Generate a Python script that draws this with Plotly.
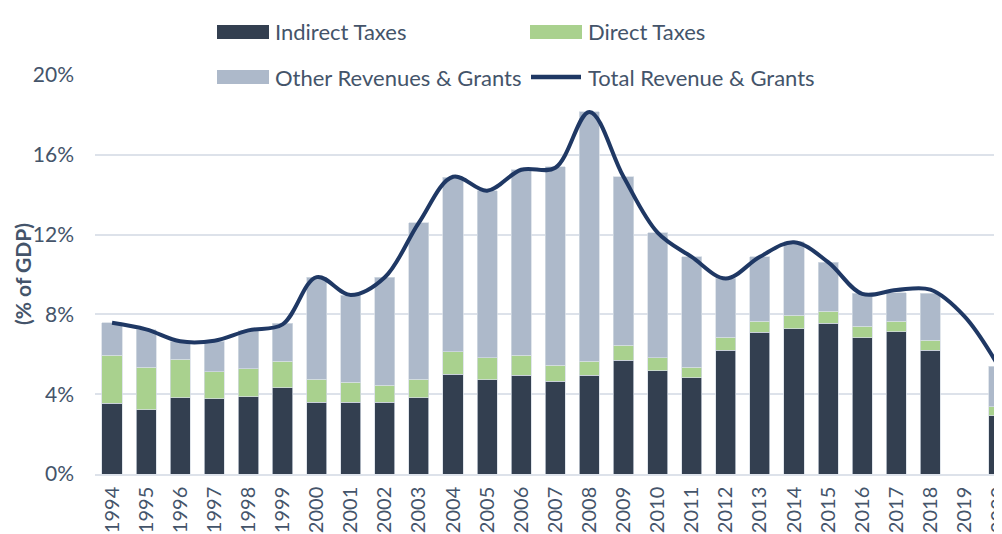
import plotly.graph_objects as go

years = [str(y) for y in range(1994, 2021)]

indirect_taxes = [3.54, 3.22, 3.82, 3.77, 3.87, 4.33, 3.59, 3.59, 3.59, 3.82,
                  5.01, 4.73, 4.96, 4.66, 4.96, 5.71, 5.18, 4.83, 6.20, 7.10,
                  7.27, 7.55, 6.83, 7.13, 6.20, None, 2.92]
direct_taxes = [2.41, 2.13, 1.93, 1.36, 1.41, 1.33, 1.16, 1.02, 0.86, 0.93,
                1.11, 1.10, 0.99, 0.79, 0.70, 0.74, 0.65, 0.52, 0.65, 0.55,
                0.70, 0.60, 0.57, 0.52, 0.50, None, 0.44]
other_revenues = [1.63, 1.87, 0.88, 1.53, 1.90, 1.89, 5.12, 4.36, 5.41, 7.85,
                  8.76, 8.37, 9.29, 9.94, 12.51, 8.45, 6.27, 5.53, 2.96, 3.24,
                  3.66, 2.46, 1.66, 1.43, 2.36, None, 2.05]
total_revenue = [7.58, 7.25, 6.65, 6.68, 7.20, 7.50, 9.87, 8.97, 9.86, 12.60,
                 14.90, 14.20, 15.25, 15.35, 18.15, 14.90, 12.10, 10.88, 9.80, 10.89,
                 11.62, 10.62, 9.03, 9.22, 9.24, 7.90, 5.40]

y_ticks = [0, 4, 8, 12, 16, 20]
y_tick_labels = ["0%", "4%", "8%", "12%", "16%", "20%"]

C_IND = "#333f50"
C_DIR = "#a9d18e"
C_OTH = "#adb9ca"
C_TOT = "#1f3864"
TXT = "#44546a"
FONT = "Lato"

# page has an 8px body margin; figure sized to fit the remaining window
W, H = 994, 526
L, R, T, B = 87, 0, 67, 60
PW, PH = W - L - R, H - T - B
OFF = 8  # body margin offset


def px(x):  # page pixel -> paper x
    return (x - OFF - L) / PW


def py(y):  # page pixel -> paper y
    return (H - B - (y - OFF)) / PH


edge = dict(color="rgba(214,220,228,0.9)", width=0.8)

fig = go.Figure()
fig.add_trace(go.Bar(x=years, y=indirect_taxes, name="Indirect Taxes",
                     marker=dict(color=C_IND, line=edge), showlegend=False))
fig.add_trace(go.Bar(x=years, y=direct_taxes, name="Direct Taxes",
                     marker=dict(color=C_DIR, line=edge), showlegend=False))
fig.add_trace(go.Bar(x=years, y=other_revenues, name="Other Revenues & Grants",
                     marker=dict(color=C_OTH, line=edge), showlegend=False))
fig.add_trace(go.Scatter(x=years, y=total_revenue, name="Total Revenue & Grants",
                         mode="lines", line=dict(color=C_TOT, width=4, shape="spline", smoothing=1.0),
                         showlegend=False))

# manual legend (pixel-placed)
shapes = []
annotations = []
legend_items = [
    ("rect", C_IND, 217, 269, 32, 273, "Indirect Taxes"),
    ("rect", C_DIR, 530, 582, 32, 586, "Direct Taxes"),
    ("rect", C_OTH, 217, 269, 77, 273, "Other Revenues & Grants"),
    ("line", C_TOT, 531, 581, 77, 586, "Total Revenue & Grants"),
]
for kind, col, x0, x1, yc, tx, label in legend_items:
    if kind == "rect":
        shapes.append(dict(type="rect", xref="paper", yref="paper",
                           x0=px(x0), x1=px(x1), y0=py(yc + 7), y1=py(yc - 7),
                           fillcolor=col, line=dict(width=0), layer="above"))
    else:
        shapes.append(dict(type="line", xref="paper", yref="paper",
                           x0=px(x0), x1=px(x1), y0=py(yc), y1=py(yc),
                           line=dict(color=col, width=4.5), layer="above"))
    annotations.append(dict(x=px(tx), y=py(yc), xref="paper", yref="paper",
                            text=label, showarrow=False, xanchor="left", yanchor="middle",
                            font=dict(family=FONT, size=22, color=TXT)))

annotations.append(dict(x=px(22), y=py(274), xref="paper", yref="paper",
                        text="<b>(% of GDP)</b>", showarrow=False, textangle=-90,
                        xanchor="center", yanchor="middle",
                        font=dict(family=FONT, size=21, color=TXT)))

fig.update_layout(
    width=W, height=H,
    margin=dict(l=L, r=R, t=T, b=B, pad=0, autoexpand=False),
    barmode="stack", bargap=0.41,
    plot_bgcolor="white", paper_bgcolor="white",
    shapes=shapes, annotations=annotations,
    xaxis=dict(type="category", range=[-0.5, 26.1], showgrid=False,
               tickangle=-90, tickfont=dict(family=FONT, size=20, color=TXT),
               showline=True, linecolor="#dde2ea", linewidth=1.5, ticks="",
               ticklabelstandoff=3, fixedrange=True, automargin=False),
    yaxis=dict(range=[0, 20], tickvals=y_ticks, ticktext=y_tick_labels,
               showgrid=True, gridcolor="#dde2ea", gridwidth=1.5, zeroline=False,
               tickfont=dict(family=FONT, size=21, color=TXT), ticks="",
               ticklabelstandoff=20, automargin=False),
)

fig.write_html("out.html")
